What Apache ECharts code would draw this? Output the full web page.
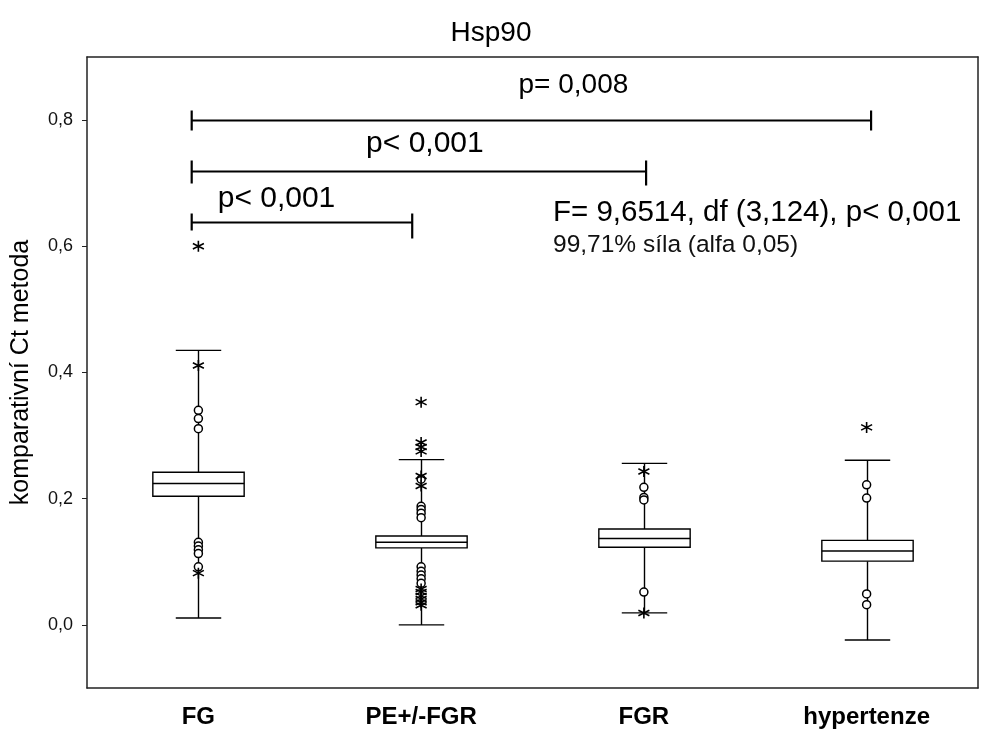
<!DOCTYPE html>
<html>
<head>
<meta charset="utf-8">
<script src="https://cdn.jsdelivr.net/npm/echarts@6/dist/echarts.min.js"></script>
<style>
  html, body { margin: 0; padding: 0; background: #fff; }
  #chart { width: 982px; height: 729px; }
</style>
</head>
<body>
<div id="chart"></div>
<script>
// Hsp90 – comparative Ct method by group
const categories = ['FG', 'PE+/-FGR', 'FGR', 'hypertenze'];

// whisker low, Q1, median, Q3, whisker high
const boxStats = [
  [0.011, 0.204, 0.224, 0.242, 0.435],
  [0.000, 0.122, 0.131, 0.141, 0.262],
  [0.019, 0.123, 0.137, 0.152, 0.256],
  [-0.024, 0.101, 0.117, 0.134, 0.261]
];

// outliers (circles) per group
const outliersFG = [0.340, 0.327, 0.311, 0.131, 0.125, 0.119, 0.113, 0.092];
const outliersPE = [0.231, 0.188, 0.183, 0.177, 0.170, 0.092, 0.085, 0.079, 0.073, 0.066];
const outliersFGR = [0.218, 0.202, 0.198, 0.052];
const outliersHyp = [0.222, 0.201, 0.049, 0.032];

// extremes (asterisks) per group
const extremesFG = [0.600, 0.411, 0.082];
const extremesPE = [0.353, 0.289, 0.282, 0.275, 0.236, 0.220, 0.057, 0.052, 0.046, 0.041, 0.036, 0.031];
const extremesFGR = [0.243, 0.019];
const extremesHyp = [0.313];

// post-hoc comparison brackets: from / to on the group scale, height, label
const bracketFrom = [-0.03, -0.03, -0.03];
const bracketTo = [3.02, 2.01, 0.96];
const bracketY = [0.800, 0.719, 0.639];
const bracketLabels = ['p= 0,008', 'p< 0,001', 'p< 0,001'];

const anovaText = 'F= 9,6514, df (3,124), p< 0,001';
const powerText = '99,71% síla (alfa 0,05)';

const yTicks = [0, 0.2, 0.4, 0.6, 0.8];

function pairs(groupIdx, values) {
  return values.map(v => [groupIdx, v]);
}
const circleData = [].concat(
  pairs(0, outliersFG), pairs(1, outliersPE), pairs(2, outliersFGR), pairs(3, outliersHyp)
);
const starData = [].concat(
  pairs(0, extremesFG), pairs(1, extremesPE), pairs(2, extremesFGR), pairs(3, extremesHyp)
);
const boxData = boxStats.map((s, i) => [i].concat(s));
const bracketData = bracketFrom.map((f, i) => [f, bracketTo[i], bracketY[i], i]);

const FONT = '"Liberation Sans", Arial, sans-serif';
const asterisk = 'path://M0,-5L0,5M-4.33,-2.5L4.33,2.5M-4.33,2.5L4.33,-2.5';

const chart = echarts.init(document.getElementById('chart'), null, { renderer: 'canvas' });

const option = {
  backgroundColor: '#fff',
  animation: false,
  title: {
    text: 'Hsp90',
    left: 'center',
    top: 14,
    textStyle: { fontFamily: FONT, fontWeight: 'normal', fontSize: 28, color: '#000' }
  },
  grid: { left: 87, right: 4, top: 57, bottom: 41 },
  xAxis: [
    {
      type: 'category',
      data: categories,
      position: 'bottom',
      axisLine: { onZero: false, lineStyle: { color: '#222', width: 1.5 } },
      axisTick: { inside: true, alignWithLabel: true, length: 5, lineStyle: { color: '#222' } },
      axisLabel: { fontFamily: FONT, fontWeight: 'bold', fontSize: 24, color: '#000', margin: 17 },
      splitLine: { show: false }
    },
    {
      type: 'category',
      data: categories,
      position: 'top',
      axisLine: { onZero: false, lineStyle: { color: '#222', width: 1.5 } },
      axisTick: { inside: true, alignWithLabel: true, length: 5, lineStyle: { color: '#222' } },
      axisLabel: { show: false },
      splitLine: { show: false }
    },
    {
      type: 'value',
      min: -0.5,
      max: 3.5,
      show: false
    }
  ],
  yAxis: [
    {
      type: 'value',
      min: -0.1,
      max: 0.9,
      name: 'komparativní Ct metoda',
      nameLocation: 'middle',
      nameGap: 53,
      nameTextStyle: { fontFamily: FONT, fontSize: 25, color: '#000' },
      axisLine: { show: true, onZero: false, lineStyle: { color: '#222', width: 1.5 } },
      axisTick: { show: true, length: 5, customValues: yTicks, lineStyle: { color: '#222' } },
      axisLabel: {
        customValues: yTicks,
        fontFamily: FONT,
        fontSize: 18,
        color: '#111',
        margin: 14,
        formatter: v => v.toFixed(1).replace('.', ',')
      },
      splitLine: { show: false }
    },
    {
      type: 'value',
      min: -0.1,
      max: 0.9,
      position: 'right',
      axisLine: { show: true, onZero: false, lineStyle: { color: '#222', width: 1.5 } },
      axisTick: { show: false },
      axisLabel: { show: false },
      splitLine: { show: false }
    }
  ],
  series: [
    {
      // box-and-whisker glyphs
      type: 'custom',
      xAxisIndex: 0,
      yAxisIndex: 0,
      data: boxData,
      z: 3,
      renderItem: function (params, api) {
        const x = api.value(0);
        const bandW = api.size([1, 0])[0];
        const half = bandW * 0.205;
        const capHalf = bandW * 0.102;
        const pLow = api.coord([x, api.value(1)]);
        const pQ1 = api.coord([x, api.value(2)]);
        const pMed = api.coord([x, api.value(3)]);
        const pQ3 = api.coord([x, api.value(4)]);
        const pHigh = api.coord([x, api.value(5)]);
        const cx = Math.round(pMed[0]) + 0.5;
        const st = { stroke: '#000', lineWidth: 1.4, fill: null };
        return {
          type: 'group',
          children: [
            { type: 'line', shape: { x1: cx, y1: pHigh[1], x2: cx, y2: pQ3[1] }, style: st },
            { type: 'line', shape: { x1: cx, y1: pQ1[1], x2: cx, y2: pLow[1] }, style: st },
            { type: 'line', shape: { x1: cx - capHalf, y1: pHigh[1], x2: cx + capHalf, y2: pHigh[1] }, style: st },
            { type: 'line', shape: { x1: cx - capHalf, y1: pLow[1], x2: cx + capHalf, y2: pLow[1] }, style: st },
            {
              type: 'rect',
              shape: { x: cx - half, y: pQ3[1], width: half * 2, height: pQ1[1] - pQ3[1] },
              style: { stroke: '#000', lineWidth: 1.4, fill: '#fff' }
            },
            { type: 'line', shape: { x1: cx - half, y1: pMed[1], x2: cx + half, y2: pMed[1] }, style: st }
          ]
        };
      }
    },
    {
      type: 'scatter',
      xAxisIndex: 0,
      yAxisIndex: 0,
      data: circleData,
      symbol: 'circle',
      symbolSize: 8,
      z: 4,
      itemStyle: { color: '#fff', borderColor: '#000', borderWidth: 1.5, opacity: 1 }
    },
    {
      type: 'scatter',
      xAxisIndex: 0,
      yAxisIndex: 0,
      data: starData,
      symbol: asterisk,
      symbolSize: 11,
      z: 4,
      itemStyle: { color: 'none', borderColor: '#000', borderWidth: 1.6, opacity: 1 }
    },
    {
      // significance brackets with their p-values
      type: 'custom',
      xAxisIndex: 2,
      yAxisIndex: 0,
      data: bracketData,
      z: 5,
      renderItem: function (params, api) {
        const a = api.coord([api.value(0), api.value(2)]);
        const b = api.coord([api.value(1), api.value(2)]);
        const idx = api.value(3);
        const y = Math.round(a[1]) + 0.5;
        const tickUp = [10, 11, 9][idx];
        const tickDownL = [10, 12, 8][idx];
        const tickDownR = [10, 14, 16][idx];
        const st = { stroke: '#000', lineWidth: 2.2 };
        const labelX = [(a[0] + b[0]) / 2 + 42, (a[0] + b[0]) / 2 + 6, a[0] + 26][idx];
        const labelAlign = idx === 2 ? 'left' : 'center';
        const labelGap = [35, 28, 24][idx];
        return {
          type: 'group',
          children: [
            { type: 'line', shape: { x1: a[0], y1: y, x2: b[0], y2: y }, style: st },
            { type: 'line', shape: { x1: a[0], y1: y - tickUp, x2: a[0], y2: y + tickDownL }, style: st },
            { type: 'line', shape: { x1: b[0], y1: y - tickUp, x2: b[0], y2: y + tickDownR }, style: st },
            {
              type: 'text',
              x: labelX,
              y: y - labelGap,
              style: {
                text: bracketLabels[idx],
                fontFamily: FONT,
                fontSize: [28, 30, 30][idx],
                fill: '#000',
                align: labelAlign,
                verticalAlign: 'middle'
              }
            }
          ]
        };
      }
    }
  ],
  graphic: [
    {
      type: 'text',
      left: 553,
      top: 198,
      style: { text: anovaText, fontFamily: FONT, fontSize: 29.5, fill: '#000' }
    },
    {
      type: 'text',
      left: 553,
      top: 233,
      style: { text: powerText, fontFamily: FONT, fontSize: 24.5, fill: '#111' }
    }
  ]
};

chart.setOption(option);
</script>
</body>
</html>
